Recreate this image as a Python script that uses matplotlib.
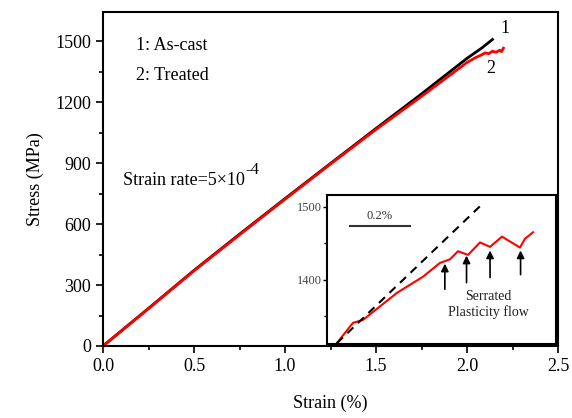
import numpy as np
import matplotlib.pyplot as plt

plt.rcParams['font.family'] = ['Liberation Serif', 'DejaVu Serif']

# courbes principales
strain_ascast = [0.0, 0.25, 0.5, 0.75, 1.0, 1.25, 1.5, 1.75, 2.0, 2.08, 2.14]
stress_ascast = [0, 185, 372, 550, 725, 898, 1070, 1240, 1415, 1465, 1508]

strain_treated = [0.0, 0.25, 0.5, 0.75, 1.0, 1.25, 1.5, 1.6, 1.75, 1.9, 2.0, 2.05,
                  2.08, 2.1, 2.12, 2.14, 2.16, 2.18, 2.19, 2.2]
stress_treated = [0, 184, 370, 547, 722, 895, 1065, 1130, 1228, 1328, 1395, 1420,
                  1432, 1442, 1438, 1450, 1445, 1455, 1448, 1465]

# encart : zoom sur l'écoulement dentelé
inset_x = [0.032, 0.085, 0.118, 0.229, 0.314, 0.370, 0.403, 0.429, 0.462,
           0.501, 0.534, 0.573, 0.632, 0.648, 0.675]
inset_y = [1313, 1341, 1345, 1382, 1404, 1423, 1428, 1439, 1434,
           1451, 1445, 1459, 1444, 1456, 1465]
dash_x = [0.032, 0.512]
dash_y = [1313, 1505]
arrow_x = [0.386, 0.457, 0.534, 0.634]
arrow_tail = [1387, 1396, 1403, 1407]
arrow_head = [1422, 1433, 1440, 1440]

fig = plt.figure(figsize=(5.72, 4.18), dpi=100)
ax = fig.add_axes([103/572, 1-346/418, 455/572, 334/418])

ax.plot(strain_ascast, stress_ascast, color='black', lw=2)
ax.plot(strain_treated, stress_treated, color='red', lw=2)

ax.set_xlim(0, 2.5)
ax.set_ylim(0, 1643)
ax.set_xticks(np.arange(0, 2.51, 0.5))
ax.set_xticks(np.arange(0, 2.51, 0.25), minor=True)
ax.set_yticks(np.arange(0, 1501, 300))
ax.set_yticks(np.arange(0, 1601, 150), minor=True)
ax.tick_params(which='both', direction='out', labelsize=13, width=1.2)
ax.tick_params(which='major', length=5)
ax.tick_params(which='minor', length=3)
for s in ax.spines.values():
    s.set_linewidth(1.5)
ax.set_xlabel('Strain (%)', fontsize=13, labelpad=14)
ax.set_ylabel('Stress (MPa)', fontsize=13, labelpad=8)

ax.text(0.18, 1480, '1: As-cast', fontsize=13, va='center')
ax.text(0.18, 1333, '2: Treated', fontsize=13, va='center')
t = ax.text(0.11, 816, 'Strain rate=5×10', fontsize=13, va='center')
ax.annotate('-4', xy=(1.0, 0.62), xycoords=t, xytext=(0.5, 0), textcoords='offset points',
            fontsize=12, ha='left', va='bottom')
ax.text(2.21, 1564, '1', fontsize=13, ha='center', va='center')
ax.text(2.13, 1367, '2', fontsize=13, ha='center', va='center')

# encart
axi = fig.add_axes([327/572, 1-344/418, 229/572, 149/418])
axi.plot(inset_x, inset_y, color='red', lw=1.5)
axi.plot(dash_x, dash_y, color='black', lw=1.5, ls=(0, (4, 3)))
for xa, yt, yh in zip(arrow_x, arrow_tail, arrow_head):
    axi.annotate('', xy=(xa, yh), xytext=(xa, yt),
                 arrowprops=dict(arrowstyle='-|>', color='black', lw=1.2,
                                 mutation_scale=11, shrinkA=0, shrinkB=0))
axi.plot([0.075, 0.272], [1474, 1474], color='#333333', lw=1.5)
axi.text(0.1735, 1479, '0.2%', fontsize=9, ha='center', va='bottom', color='#333333')
axi.text(0.527, 1366, 'Serrated\nPlasticity flow', fontsize=10, ha='center', va='center',
         linespacing=1.2, color='#222222')
axi.set_xlim(0, 0.75)
axi.set_ylim(1312, 1516)
axi.set_xticks([])
axi.set_yticks([1400, 1500])
axi.set_yticks([1350, 1450], minor=True)
axi.tick_params(which='both', direction='out', labelsize=9, width=1, labelcolor='#444444')
axi.tick_params(which='major', length=3, pad=1)
axi.tick_params(which='minor', length=2)
for s in axi.spines.values():
    s.set_linewidth(1.5)

fig.savefig('out.png', dpi=100)
